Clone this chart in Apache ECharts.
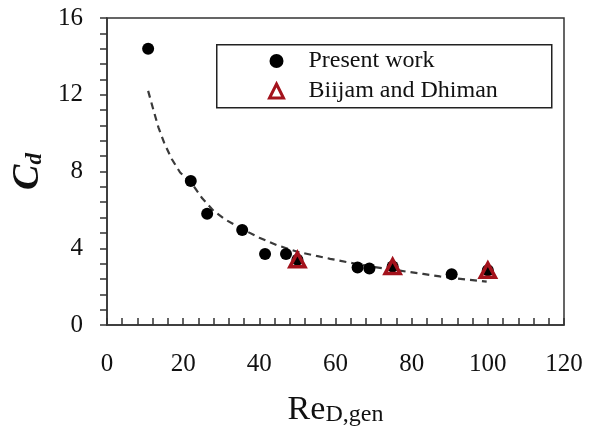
<!DOCTYPE html>
<html>
<head>
<meta charset="utf-8">
<script src="https://cdn.jsdelivr.net/npm/echarts@6/dist/echarts.min.js"></script>
<style>html,body{margin:0;padding:0;background:#fff;}#c{width:598px;height:432px;}</style>
</head>
<body>
<div id="c"></div>
<script>
// Present work (filled circles)
var presentX = [10.8, 22.0, 26.3, 35.5, 41.5, 47.0, 50.0, 65.8, 68.9, 75.0, 90.5, 100.0];
var presentY = [14.4, 7.5, 5.8, 4.95, 3.7, 3.7, 3.4, 3.0, 2.95, 3.05, 2.65, 2.85];
// Biijam and Dhiman (open triangles)
var biijamX = [50.0, 75.0, 100.0];
var biijamY = [3.4, 3.05, 2.85];
// Dashed fit curve
var fitX = [10.8, 12.2, 13.5, 15, 17, 19.2, 22.2, 25, 28, 31, 35.5, 40, 44.6, 50, 55, 58.6, 65, 70, 75, 78.7, 83, 87.4, 92, 96, 99.7];
var fitY = [12.2, 11.2, 10.3, 9.5, 8.65, 7.95, 7.4, 6.6, 5.95, 5.5, 5.0, 4.55, 4.16, 3.82, 3.6, 3.45, 3.2, 3.02, 2.9, 2.78, 2.66, 2.53, 2.42, 2.34, 2.26];
// Axis ticks
var xTicks = {min: 0, max: 120, step: 20};
var yTicks = {min: 0, max: 16, step: 4};

function zip(a, b) { return a.map(function (v, i) { return [v, b[i]]; }); }

var chart = echarts.init(document.getElementById('c'));
var serif = '"Liberation Serif", "DejaVu Serif", serif';
var triStyle = {color: 'rgba(255,255,255,0)', borderColor: '#a3121c', borderWidth: 3.5, opacity: 1};
chart.setOption({
  animation: false,
  backgroundColor: '#fff',
  grid: {left: 107, top: 18, right: 34, bottom: 105, show: true, borderColor: '#333', borderWidth: 1.5, backgroundColor: 'transparent'},
  xAxis: {
    type: 'value', min: xTicks.min, max: xTicks.max, interval: xTicks.step,
    name: '{r|Re}{s|D,gen}', nameLocation: 'middle', nameGap: 62,
    nameTextStyle: {rich: {r: {fontFamily: serif, fontSize: 34, color: '#111', verticalAlign: 'bottom', lineHeight: 40}, s: {fontFamily: serif, fontSize: 24, color: '#111', padding: [16, 0, 0, 0], lineHeight: 40, verticalAlign: 'bottom'}}},
    axisLine: {show: true, lineStyle: {color: '#333', width: 1.5}},
    axisTick: {show: true, inside: true, length: 7, lineStyle: {color: '#333', width: 1.5}},
    minorTick: {show: true, splitNumber: 5, length: 7, lineStyle: {color: '#333', width: 1.5}},
    splitLine: {show: false},
    axisLabel: {fontFamily: serif, fontSize: 25, color: '#111', margin: 27}
  },
  yAxis: {
    type: 'value', min: yTicks.min, max: yTicks.max, interval: yTicks.step,
    name: '{c|C}{d|d}', nameLocation: 'middle', nameGap: 51, nameRotate: 90,
    nameTextStyle: {rich: {c: {fontFamily: serif, fontSize: 38, fontStyle: 'italic', fontWeight: 'bold', color: '#111'}, d: {fontFamily: serif, fontSize: 23, fontStyle: 'italic', fontWeight: 'bold', color: '#111', padding: [14, 0, 0, 0]}}},
    axisLine: {show: true, lineStyle: {color: '#333', width: 1.5}},
    axisTick: {show: true, inside: false, length: 7, lineStyle: {color: '#333', width: 1.5}},
    minorTick: {show: true, splitNumber: 5, length: 7, lineStyle: {color: '#333', width: 1.5}},
    splitLine: {show: false},
    axisLabel: {fontFamily: serif, fontSize: 25, color: '#111', margin: 24}
  },
  graphic: [{type: 'rect', left: 216, top: 44, shape: {width: 335, height: 63}, style: {fill: '#fff', stroke: '#222', lineWidth: 1.5}, z: 0}],
  legend: {
    orient: 'vertical', left: 268, top: 49, itemWidth: 14, itemHeight: 14, itemGap: 6, padding: 0,
    data: [
      {name: 'Present work', icon: 'circle'},
      {name: 'Biijam and Dhiman', icon: 'triangle', itemStyle: {color: 'rgba(255,255,255,0)', borderColor: '#a3121c', borderWidth: 3}}
    ],
    textStyle: {fontFamily: serif, fontSize: 24, color: '#111', lineHeight: 24, padding: [0, 0, 0, 20]},
    z: 5
  },
  series: [
    {type: 'line', name: 'fit', data: zip(fitX, fitY), showSymbol: false, smooth: false,
     lineStyle: {color: '#3a3a3a', width: 2.2, type: [7, 5]}, z: 1, silent: true},
    {type: 'scatter', name: 'Present work', data: zip(presentX, presentY), symbol: 'circle', symbolSize: 12,
     itemStyle: {color: '#000', opacity: 1}, z: 2},
    {type: 'scatter', name: 'Biijam and Dhiman', data: zip(biijamX, biijamY), symbol: 'triangle', symbolSize: [15, 14],
     itemStyle: triStyle, z: 3}
  ]
});
</script>
</body>
</html>
